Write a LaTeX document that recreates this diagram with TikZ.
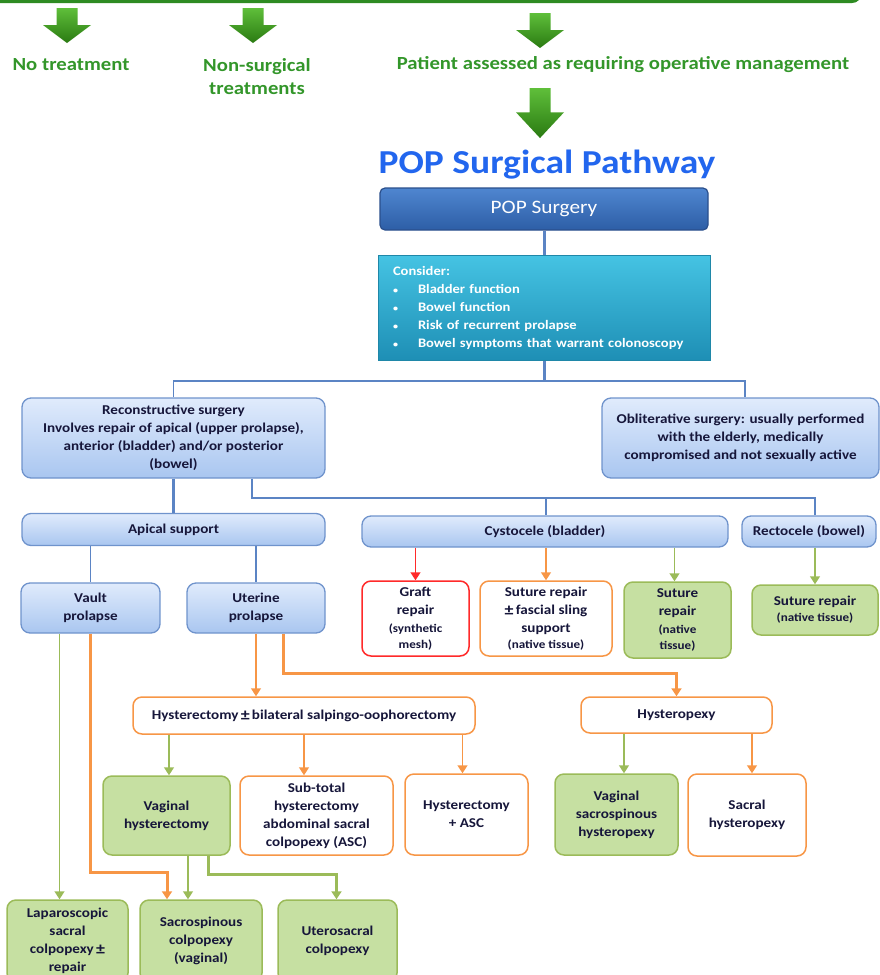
\documentclass[tikz,border=0pt]{standalone}
\usepackage{fontspec}
\setmainfont{Carlito}[FakeStretch=1.12]
\usetikzlibrary{arrows.meta,calc}
\definecolor{bluetop}{HTML}{E0EBFC}
\definecolor{bluebot}{HTML}{A9C6F0}
\definecolor{blueline}{HTML}{6F93CC}
\definecolor{connblue}{HTML}{5B84C4}
\definecolor{poptop}{HTML}{4F86D0}
\definecolor{popbot}{HTML}{2D5EA6}
\definecolor{popline}{HTML}{2A4F8C}
\definecolor{constop}{HTML}{45C3E3}
\definecolor{consbot}{HTML}{1E8FB5}
\definecolor{consline}{HTML}{1F87A8}
\definecolor{txtdark}{HTML}{16163A}
\definecolor{gtext}{HTML}{33962A}
\definecolor{garrtop}{HTML}{5FBF3A}
\definecolor{garrbot}{HTML}{2A7A12}
\definecolor{topline}{HTML}{2E8B22}
\definecolor{orng}{HTML}{F79646}
\definecolor{rd}{HTML}{FF2A2A}
\definecolor{grn}{HTML}{9BBB59}
\definecolor{grnfill}{HTML}{C6E0A2}
\definecolor{titleblue}{HTML}{2266EE}
\newcommand\boxfont{\bfseries\fontsize{13.5}{18}\selectfont}
\newcommand\smallbox{\fontsize{11.7}{16}\selectfont}
\newcommand\pmsign{\raisebox{-1pt}{\fontsize{16}{18}\selectfont±}}
\newcommand\bul{\makebox[25pt][l]{\fontsize{9}{9}\selectfont\textbullet}}
\begin{document}
\begin{tikzpicture}[x=1pt,y=-1pt,
  base/.style={inner sep=0pt, align=center, font=\boxfont, text=txtdark, rounded corners=9pt},
  bluebox/.style={base, draw=blueline, line width=1.3pt, top color=bluetop, bottom color=bluebot},
  orbox/.style={base, draw=orng, line width=1.5pt, fill=white},
  rdbox/.style={base, draw=rd, line width=1.5pt, fill=white},
  grbox/.style={base, draw=grn, line width=1.5pt, fill=grnfill},
  popbox/.style={inner sep=0pt, draw=popline, line width=1.2pt, top color=poptop, bottom color=popbot, rounded corners=5pt, text=white, font=\fontsize{19}{22}\selectfont},
  consbox/.style={inner sep=0pt, draw=consline, line width=1pt, top color=constop, bottom color=consbot, text=white, font=\bfseries\fontsize{13}{18}\selectfont},
  glabel/.style={text=gtext, font=\bfseries\fontsize{18.5}{23}\selectfont, align=center, inner sep=0pt},
  bl/.style={draw=connblue, line width=1.6pt},
  blmed/.style={draw=connblue, line width=2.4pt},
  blthick/.style={draw=connblue, line width=3pt},
  tip/.style={-{Triangle[width=10pt,length=8pt]}},
  othin/.style={draw=orng, line width=1.5pt, tip},
  othick/.style={draw=orng, line width=3pt, tip},
  gthin/.style={draw=grn, line width=1.5pt, tip},
  gthick/.style={draw=grn, line width=3pt, tip},
  rthin/.style={draw=rd, line width=1.5pt, tip},
  blockarr/.pic={\shade[top color=garrtop, bottom color=garrbot] (-10.5,0) -- (10.5,0) -- (10.5,17) -- (24,17) -- (0,35) -- (-24,17) -- (-10.5,17) -- cycle;}
]
\useasboundingbox (0,0) rectangle (880,975);
\clip (0,0) rectangle (880,975);

% top border of the box above
\draw[topline, line width=3pt, rounded corners=8pt] (-5,1.5) -- (860,1.5) -- (860,-20);

% block arrows
\pic at (67,8) {blockarr};
\pic at (253,8) {blockarr};
\pic at (540,13) {blockarr};
\pic[yscale=1.43] at (540,88) {blockarr};

% top labels
\node[glabel] (nt) at (71,65) {No treatment};
\node[glabel] (ns) at (257,76.5) {Non-surgical\\treatments};
\node[glabel] (pa) at (623,65) {Patient assessed as requiring operative management};

% title
\node[text=titleblue, font=\bfseries\fontsize{33.5}{36}\selectfont, inner sep=0pt] (title) at (547,165) {POP Surgical Pathway};

% main boxes
\node[popbox, minimum width=328pt, minimum height=42pt] (pop) at (544,209) {POP Surgery};
\node[consbox, minimum width=332pt, minimum height=105pt, text width=302pt, align=left] (cons) at (544,307.5)
  {Consider:\\
   \bul Bladder function\\
   \bul Bowel function\\
   \bul Risk of recurrent prolapse\\
   \bul Bowel symptoms that warrant colonoscopy};

\node[bluebox, minimum width=303pt, minimum height=80pt] (recon) at (173.5,438)
  {Reconstructive surgery\\Involves repair of apical (upper prolapse),\\anterior (bladder) and/or posterior\\(bowel)};
\node[bluebox, minimum width=277pt, minimum height=80pt] (obl) at (740.5,438)
  {Obliterative surgery: usually performed\\with the elderly, medically\\compromised and not sexually active};

\node[bluebox, minimum width=303pt, minimum height=32pt] (apical) at (173.5,529.5) {Apical support};
\node[bluebox, minimum width=366pt, minimum height=31pt] (cysto) at (545,531.5) {Cystocele (bladder)};
\node[bluebox, minimum width=134pt, minimum height=31pt] (recto) at (809,531.5) {Rectocele (bowel)};

\node[bluebox, minimum width=139pt, minimum height=50pt] (vault) at (90.5,608) {Vault\\prolapse};
\node[bluebox, minimum width=138pt, minimum height=50pt] (uter) at (256,608) {Uterine\\prolapse};

\node[rdbox, minimum width=107pt, minimum height=75pt] (graft) at (415.5,618.5)
  {Graft\\repair\\{\smallbox(synthetic}\\[-2pt]{\smallbox mesh)}};
\node[orbox, minimum width=132pt, minimum height=75pt] (sfs) at (546,618.5)
  {Suture repair\\\pmsign\,fascial sling\\support\\[-2pt]{\smallbox(native tissue)}};
\node[grbox, minimum width=107pt, minimum height=76pt] (sn) at (677.5,620)
  {Suture\\repair\\{\smallbox(native}\\[-2pt]{\smallbox tissue)}};
\node[grbox, minimum width=126pt, minimum height=50pt] (rc) at (815,610)
  {Suture repair\\[-2pt]{\smallbox(native tissue)}};

\node[orbox, minimum width=342pt, minimum height=37pt] (hyst) at (304,715.5)
  {Hysterectomy\,\pmsign\,bilateral salpingo-oophorectomy};
\node[orbox, minimum width=191pt, minimum height=36pt] (hpexy) at (676.5,715) {Hysteropexy};

\node[grbox, minimum width=127pt, minimum height=79pt] (vh) at (166.5,815.5) {Vaginal\\hysterectomy};
\node[orbox, minimum width=153pt, minimum height=79pt] (st) at (316.5,815.5)
  {Sub-total\\hysterectomy\\abdominal sacral\\colpopexy (ASC)};
\node[orbox, minimum width=123pt, minimum height=81pt] (ha) at (466.5,814.5) {Hysterectomy\\+ ASC};
\node[grbox, minimum width=123pt, minimum height=81pt] (vsh) at (616.5,814.5) {Vaginal\\sacrospinous\\hysteropexy};
\node[orbox, minimum width=118pt, minimum height=82pt] (sh) at (747,815) {Sacral\\hysteropexy};

\node[grbox, minimum width=121pt, minimum height=82pt] (lap) at (67.5,941)
  {Laparoscopic\\sacral\\colpopexy\,\pmsign\\repair};
\node[grbox, minimum width=122pt, minimum height=82pt] (ss) at (201,941) {Sacrospinous\\colpopexy\\(vaginal)};
\node[grbox, minimum width=119pt, minimum height=82pt] (us) at (337.5,941) {Uterosacral\\colpopexy};

% blue connectors
\coordinate (j1) at (544,381);
\coordinate (j2) at (546,498);
\draw[blthick] (pop.south) -- (cons.north);
\draw[blthick] (cons.south) -- (j1);
\draw[bl] (recon.north) |- (j1) -| ([xshift=4.5pt]obl.north);
\draw[blmed] (recon.south) -- (apical.north);
\draw[blmed] ([xshift=78.5pt]recon.south) |- (j2);
\draw[blmed] (j2) -- (j2 |- cysto.north);
\draw[bl] (j2) -| ([xshift=6pt]recto.north);
\draw[bl] (apical.south -| vault.north) -- (vault.north);
\draw[bl] (apical.south -| uter.north) -- (uter.north);

% cystocele / rectocele children
\draw[rthin] (cysto.south -| graft.north) -- (graft.north);
\draw[othin] (cysto.south -| sfs.north) -- (sfs.north);
\draw[gthin] ([xshift=-3pt]cysto.south -| sn.north) -- ([xshift=-3pt]sn.north);
\draw[gthin] (recto.south -| rc.north) -- (rc.north);

% uterine prolapse
\draw[othin] (uter.south) -- (uter.south |- hyst.north);
\draw[othick] ([xshift=27pt]uter.south) -- ++(0,40) -| (hpexy.north);

% hysterectomy children
\draw[gthin] ([xshift=2.5pt]hyst.south -| vh.north) -- ([xshift=2.5pt]vh.north);
\draw[othin] (hyst.south) -- (hyst.south |- st.north);
\draw[othin] ([xshift=-4pt]hyst.south -| ha.north) -- ([xshift=-4pt]ha.north);
\draw[gthin] ([xshift=7.5pt]hpexy.south -| vsh.north) -- ([xshift=7.5pt]vsh.north);
\draw[othin] ([xshift=5pt]hpexy.south -| sh.north) -- ([xshift=5pt]sh.north);

% vault prolapse
\draw[gthin] ([xshift=-31pt]vault.south) -- ([xshift=-31pt]vault.south |- lap.north);
\draw[othick] (vault.south) -- ++(0,239) -| ([xshift=-34pt]ss.north);

% vaginal hysterectomy
\draw[gthin] ([xshift=21.5pt]vh.south) -- ([xshift=21.5pt]vh.south |- ss.north);
\draw[gthick] ([xshift=41.5pt]vh.south) -- ++(0,19) -| ([xshift=-1pt]us.north);
\end{tikzpicture}
\end{document}
